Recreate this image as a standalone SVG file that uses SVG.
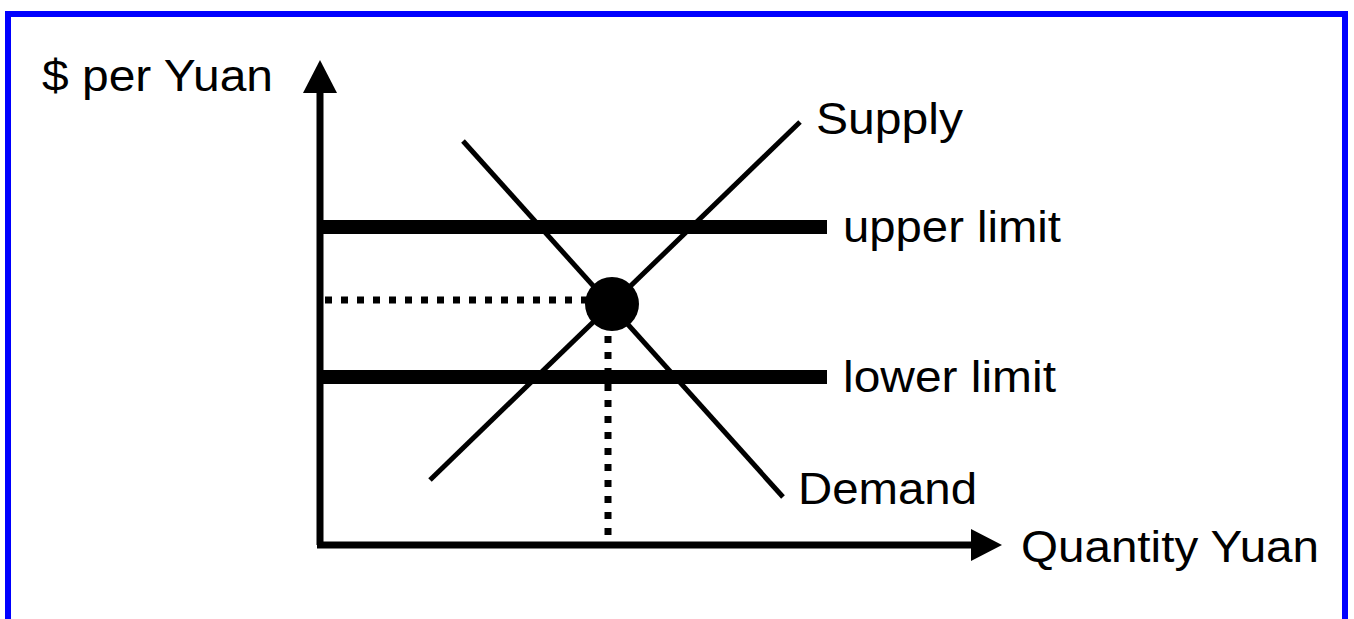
<svg xmlns="http://www.w3.org/2000/svg" width="1354" height="619" viewBox="0 0 1354 619">
<style>
text{font-family:"Liberation Sans",Arial,sans-serif;font-size:45px;fill:#000}
.ln{stroke:#000;stroke-width:5;fill:none}
.limit{stroke:#000;stroke-width:14;fill:none}
.dot{stroke:#000;stroke-width:7;stroke-dasharray:7 9;fill:none}
.axis{stroke:#000;stroke-width:7;fill:none}
</style>
<rect x="8" y="14" width="1337" height="620" fill="#fff" stroke="#0000ff" stroke-width="6"/>
<g id="connectors">
<path class="axis" d="M320,545 V92"/>
<path d="M303,93 L320,60 L337,93 Z" fill="#000"/>
<path class="axis" d="M317,545 H972"/>
<path d="M971,529 L1002,545 L971,561 Z" fill="#000"/>
<path class="dot" d="M325,300 H590"/>
<path class="dot" d="M608,320 V545"/>
</g>
<g id="supply"><line class="ln" x1="430" y1="480" x2="800" y2="122"/><text x="816" y="134" textLength="147" lengthAdjust="spacingAndGlyphs">Supply</text></g>
<g id="demand"><line class="ln" x1="463" y1="141" x2="783" y2="497"/><text x="798" y="504" textLength="179" lengthAdjust="spacingAndGlyphs">Demand</text></g>
<g id="upper-limit"><line class="limit" x1="320" y1="227" x2="827" y2="227"/><text x="843" y="242" textLength="218" lengthAdjust="spacingAndGlyphs">upper limit</text></g>
<g id="lower-limit"><line class="limit" x1="320" y1="377" x2="827" y2="377"/><text x="843" y="392" textLength="213" lengthAdjust="spacingAndGlyphs">lower limit</text></g>
<g id="equilibrium"><circle cx="612" cy="304" r="27" fill="#000"/></g>
<g id="y-label"><text x="42" y="91" textLength="231" lengthAdjust="spacingAndGlyphs">$ per Yuan</text></g>
<g id="x-label"><text x="1021" y="562" textLength="298" lengthAdjust="spacingAndGlyphs">Quantity Yuan</text></g>
</svg>
